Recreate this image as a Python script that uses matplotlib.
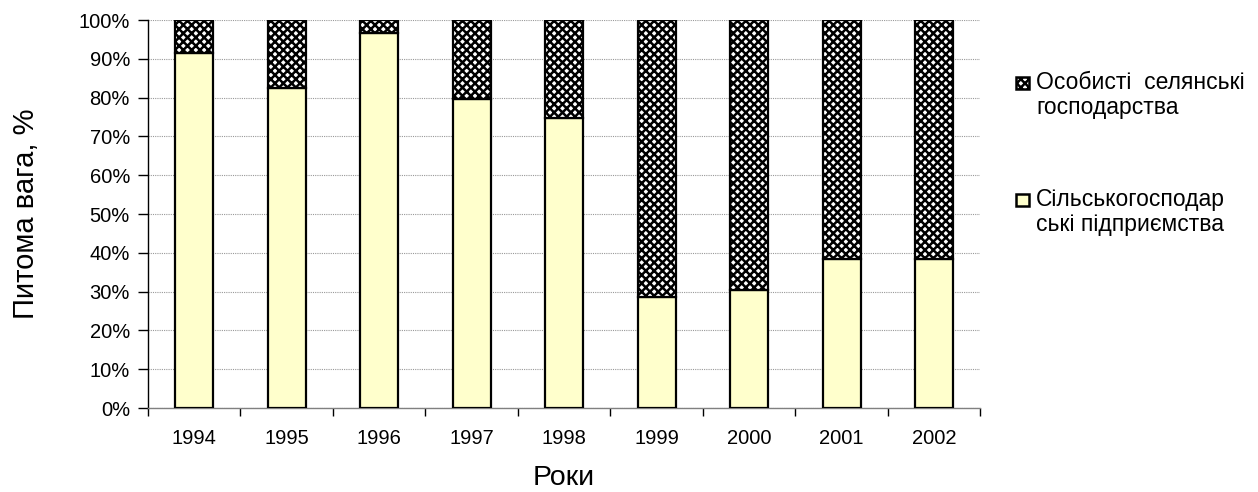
import matplotlib
matplotlib.use("Agg")
import matplotlib.pyplot as plt
from matplotlib.patches import Rectangle
import matplotlib.ticker as mticker

plt.rcParams['font.family'] = ['Liberation Sans', 'DejaVu Sans']
plt.rcParams['hatch.linewidth'] = 1.8

years = ['1994', '1995', '1996', '1997', '1998', '1999', '2000', '2001', '2002']
enterprises = [91.6, 82.5, 96.7, 79.6, 74.8, 28.7, 30.4, 38.4, 38.4]
households = [100 - v for v in enterprises]
series_names = ['Особисті  селянські\nгосподарства', 'Сільськогосподар\nські підприємства']

W, H = 1258, 492
fig = plt.figure(figsize=(W / 100, H / 100), dpi=100)
ax = fig.add_axes([0.1176, 0.1707, 0.6617, 0.7886])

x = list(range(len(years)))
w = 0.41
ax.bar(x, enterprises, width=w, color='#FFFFCC', edgecolor='black', linewidth=1.6, zorder=3)
ax.bar(x, households, width=w, bottom=enterprises, color='white', edgecolor='black',
       hatch='xxxx', linewidth=1.6, zorder=3)

ax.set_xlim(-0.5, len(years) - 0.5)
ax.set_ylim(0, 100)
ax.yaxis.set_major_locator(mticker.MultipleLocator(10))
ax.yaxis.set_major_formatter(mticker.FuncFormatter(lambda v, p: f'{int(round(v))}%'))
ax.grid(axis='y', color='#999999', linestyle=(0, (1, 1)), linewidth=0.8, zorder=0)

ax.set_xticks(x)
ax.set_xticklabels(years)
ax.set_xticks([i - 0.5 for i in range(len(years) + 1)], minor=True)
ax.tick_params(axis='x', which='major', length=0, pad=15, labelsize=14.5)
ax.tick_params(axis='x', which='minor', length=6, width=1, color='black', direction='out')
ax.tick_params(axis='y', length=7, width=1, direction='out', labelsize=14.5, pad=6)

for s in ['top', 'right']:
    ax.spines[s].set_visible(False)
ax.spines['left'].set_linewidth(1)
ax.spines['bottom'].set_linewidth(1)
ax.spines['bottom'].set_color('#808080')

ax.set_ylabel('Питома вага, %', fontsize=21, labelpad=28)
ax.set_xlabel('Роки', fontsize=20.5, labelpad=12)

# legend drawn manually so markers align with the first text line
leg_styles = [dict(facecolor='white', edgecolor='black', hatch='xxxx', linewidth=1.8),
              dict(facecolor='#FFFFCC', edgecolor='black', linewidth=1.8)]
leg_tops = [83, 200]  # pixel y (from top) of first-line centers
for name, style, yc in zip(series_names, leg_styles, leg_tops):
    fig.patches.append(Rectangle((1016 / W, 1 - (yc + 6) / H), 13 / W, 12 / H,
                                 transform=fig.transFigure, figure=fig, **style))
    fig.text(1036 / W, 1 - (yc - 12) / H, name, fontsize=16.5, va='top', ha='left',
             linespacing=1.12)

fig.savefig('out.png', dpi=100)
